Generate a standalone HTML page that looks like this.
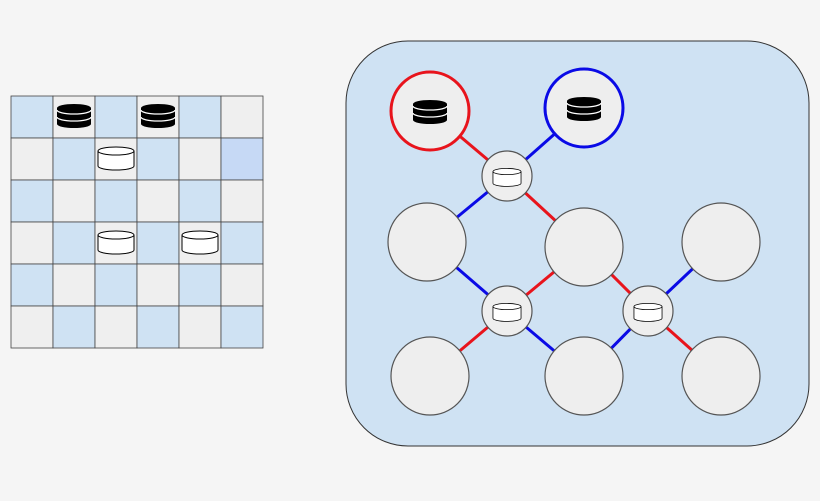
<!DOCTYPE html>
<html><head><style>html,body{margin:0;padding:0;background:#f5f5f5}</style></head>
<body>
<svg width="820" height="496" viewBox="0 0 820 496" xmlns="http://www.w3.org/2000/svg">
<defs>
<g id="bc">
<path d="M-17,-8 A17,4 0 0 1 17,-8 V8 A17,4 0 0 1 -17,8 Z" fill="#000"/>
<path d="M-17,-6 A17,4 0 0 0 17,-6" fill="none" stroke="#fff" stroke-width="1.3"/>
<path d="M-17,1 A17,4 0 0 0 17,1" fill="none" stroke="#fff" stroke-width="1.3"/>
</g>
<g id="wc">
<path d="M-18,-7 A18,4 0 0 1 18,-7 V8 A18,4 0 0 1 -18,8 Z" fill="#fff" stroke="#000" stroke-width="1"/>
<path d="M-18,-7 A18,4 0 0 0 18,-7" fill="none" stroke="#000" stroke-width="1"/>
</g>
</defs>
<rect width="820" height="496" fill="#f5f5f5"/>
<g stroke="#333" stroke-width="1">
<!-- grid -->
<g id="grid">
</g>
</g>
<g stroke="#444" stroke-width="0.8">
<rect x="11" y="96" width="42" height="42" fill="#cfe2f3"/><rect x="53" y="96" width="42" height="42" fill="#efefef"/><rect x="95" y="96" width="42" height="42" fill="#cfe2f3"/><rect x="137" y="96" width="42" height="42" fill="#efefef"/><rect x="179" y="96" width="42" height="42" fill="#cfe2f3"/><rect x="221" y="96" width="42" height="42" fill="#efefef"/>
<rect x="11" y="138" width="42" height="42" fill="#efefef"/><rect x="53" y="138" width="42" height="42" fill="#cfe2f3"/><rect x="95" y="138" width="42" height="42" fill="#efefef"/><rect x="137" y="138" width="42" height="42" fill="#cfe2f3"/><rect x="179" y="138" width="42" height="42" fill="#efefef"/><rect x="221" y="138" width="42" height="42" fill="#c6d9f5"/>
<rect x="11" y="180" width="42" height="42" fill="#cfe2f3"/><rect x="53" y="180" width="42" height="42" fill="#efefef"/><rect x="95" y="180" width="42" height="42" fill="#cfe2f3"/><rect x="137" y="180" width="42" height="42" fill="#efefef"/><rect x="179" y="180" width="42" height="42" fill="#cfe2f3"/><rect x="221" y="180" width="42" height="42" fill="#efefef"/>
<rect x="11" y="222" width="42" height="42" fill="#efefef"/><rect x="53" y="222" width="42" height="42" fill="#cfe2f3"/><rect x="95" y="222" width="42" height="42" fill="#efefef"/><rect x="137" y="222" width="42" height="42" fill="#cfe2f3"/><rect x="179" y="222" width="42" height="42" fill="#efefef"/><rect x="221" y="222" width="42" height="42" fill="#cfe2f3"/>
<rect x="11" y="264" width="42" height="42" fill="#cfe2f3"/><rect x="53" y="264" width="42" height="42" fill="#efefef"/><rect x="95" y="264" width="42" height="42" fill="#cfe2f3"/><rect x="137" y="264" width="42" height="42" fill="#efefef"/><rect x="179" y="264" width="42" height="42" fill="#cfe2f3"/><rect x="221" y="264" width="42" height="42" fill="#efefef"/>
<rect x="11" y="306" width="42" height="42" fill="#efefef"/><rect x="53" y="306" width="42" height="42" fill="#cfe2f3"/><rect x="95" y="306" width="42" height="42" fill="#efefef"/><rect x="137" y="306" width="42" height="42" fill="#cfe2f3"/><rect x="179" y="306" width="42" height="42" fill="#efefef"/><rect x="221" y="306" width="42" height="42" fill="#cfe2f3"/>
</g>
<use href="#bc" x="74" y="116"/><use href="#bc" x="158" y="116"/>
<use href="#wc" x="116" y="158"/><use href="#wc" x="116" y="242"/><use href="#wc" x="200" y="242"/>

<rect x="346" y="41" width="463" height="405" rx="62" fill="#cfe2f3" stroke="#333" stroke-width="1"/>
<g stroke-width="3">
<line x1="430" y1="111" x2="507" y2="176" stroke="#e8141c"/>
<line x1="584" y1="108" x2="507" y2="176" stroke="#0a0ae6"/>
<line x1="507" y1="176" x2="427" y2="242" stroke="#0a0ae6"/>
<line x1="507" y1="176" x2="584" y2="247" stroke="#e8141c"/>
<line x1="507" y1="311" x2="427" y2="242" stroke="#0a0ae6"/>
<line x1="507" y1="311" x2="584" y2="247" stroke="#e8141c"/>
<line x1="507" y1="311" x2="430" y2="376" stroke="#e8141c"/>
<line x1="507" y1="311" x2="584" y2="376" stroke="#0a0ae6"/>
<line x1="648" y1="311" x2="584" y2="247" stroke="#e8141c"/>
<line x1="648" y1="311" x2="721" y2="242" stroke="#0a0ae6"/>
<line x1="648" y1="311" x2="584" y2="376" stroke="#0a0ae6"/>
<line x1="648" y1="311" x2="721" y2="376" stroke="#e8141c"/>
</g>
<g fill="#eeeeee" stroke="#555" stroke-width="1.2">
<circle cx="430" cy="111" r="39" stroke="#e8141c" stroke-width="3"/>
<circle cx="584" cy="108" r="39" stroke="#0a0ae6" stroke-width="3"/>
<circle cx="427" cy="242" r="39"/>
<circle cx="584" cy="247" r="39"/>
<circle cx="721" cy="242" r="39"/>
<circle cx="430" cy="376" r="39"/>
<circle cx="584" cy="376" r="39"/>
<circle cx="721" cy="376" r="39"/>
<circle cx="507" cy="176" r="25"/>
<circle cx="507" cy="311" r="25"/>
<circle cx="648" cy="311" r="25"/>
</g>
<use href="#bc" x="430" y="112"/><use href="#bc" x="584" y="109"/>
<g transform="translate(507,177) scale(0.78)"><use href="#wc"/></g>
<g transform="translate(507,312) scale(0.78)"><use href="#wc"/></g>
<g transform="translate(648,312) scale(0.78)"><use href="#wc"/></g>
</svg>
</body></html>
